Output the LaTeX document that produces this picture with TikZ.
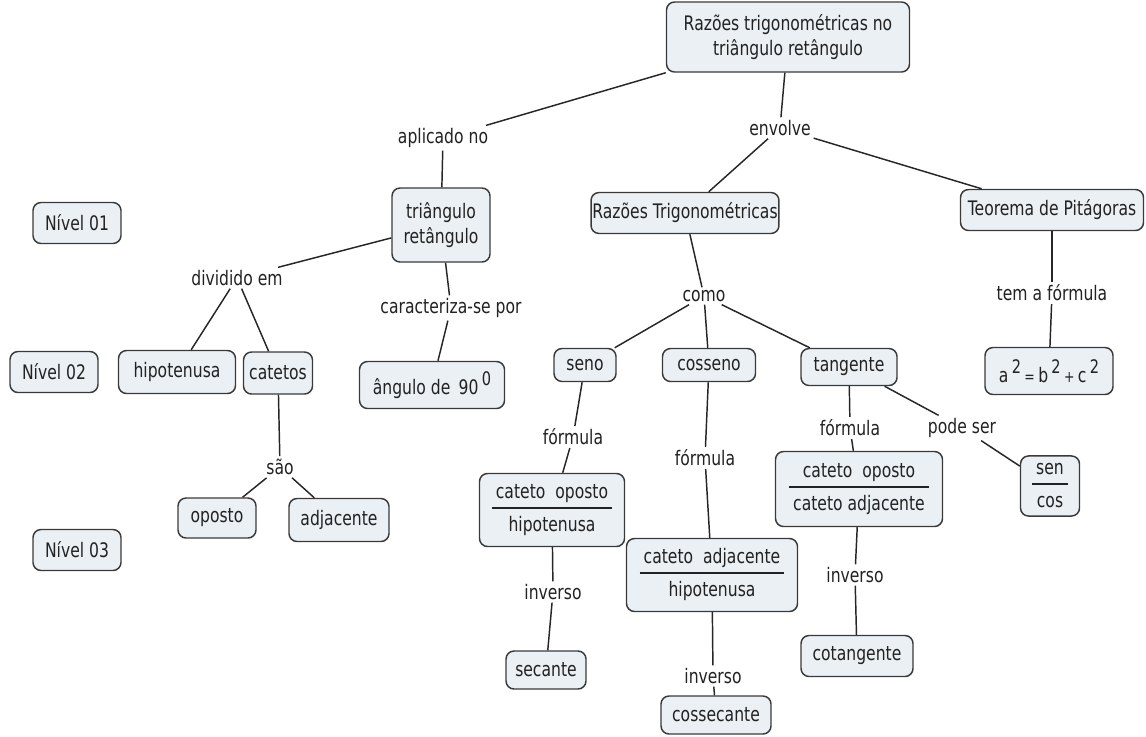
\documentclass[tikz,border=0pt]{standalone}
\usepackage{fontspec}
\setmainfont{DejaVu Sans}[FakeStretch=0.78]
\usepackage{array}
\definecolor{boxfill}{HTML}{EAF0F4}
\definecolor{boxline}{HTML}{3A3A3A}
\definecolor{inktext}{HTML}{222222}
\newcommand{\fracbox}[2]{\setlength{\arrayrulewidth}{1pt}\setlength{\tabcolsep}{3pt}%
  \begin{tabular}{c}#1\\[1pt]\hline\rule{0pt}{17pt}#2\end{tabular}}
\newcommand{\supnum}[1]{\raisebox{0.85ex}{\fontsize{14}{14}\selectfont #1}}
\newcommand{\opsign}[1]{{\fontsize{12}{12}\selectfont #1}}
\begin{document}
\begin{tikzpicture}[x=0.75pt,y=-0.75pt,
  concept/.style={draw=boxline, fill=boxfill, rounded corners=6pt, line width=1.1pt,
    text=inktext, font=\fontsize{15}{18.5}\selectfont, align=center, inner sep=1pt},
  sz/.style 2 args={minimum width=#1*0.75pt, minimum height=#2*0.75pt},
  link/.style={text=inktext, font=\fontsize{15}{18.5}\selectfont, inner sep=2pt, fill=white},
  wire/.style={draw=black!85, line width=1.1pt}]
\useasboundingbox (0,0) rectangle (1146,736);

% concepts
\node[concept, sz={243}{70}] (top) at (788,37) {Razões trigonométricas no\\triângulo retângulo};
\node[concept, sz={98}{74}] (tri) at (441,225) {triângulo\\retângulo};
\node[concept, sz={176}{41}] (razoes) at (685,213) {Razões Trigonométricas};
\node[concept, sz={183}{41}] (pitag) at (1052,210) {Teorema de Pitágoras};
\node[concept, sz={88}{41}] (n1) at (77,223) {Nível 01};
\node[concept, sz={88}{41}] (n2) at (54,372) {Nível 02};
\node[concept, sz={88}{41}] (n3) at (77,550) {Nível 03};
\node[concept, sz={117}{43}] (hip) at (177,372) {hipotenusa};
\node[concept, sz={69}{42}] (cat) at (278,373) {catetos};
\node[concept, sz={145}{47}] (ang) at (432,385) {ângulo de \,90\,\supnum{0}};
\node[concept, sz={62}{33}] (seno) at (585,365) {seno};
\node[concept, sz={93}{33}] (cosseno) at (709,365) {cosseno};
\node[concept, sz={96}{37}] (tang) at (849,367) {tangente};
\node[concept, sz={128}{47}] (pform) at (1049,371) {a\,\supnum{2}\,\opsign{=}\,b\,\supnum{2}\,\opsign{+}\,c\,\supnum{2}};
\node[concept, sz={78}{40}] (oposto) at (217,518) {oposto};
\node[concept, sz={100}{43}] (adj) at (339,520) {adjacente};
\node[concept, sz={145}{73}] (fseno) at (552,510) {\fracbox{cateto\ \ oposto}{hipotenusa}};
\node[concept, sz={171}{73}] (fcos) at (712,575) {\fracbox{cateto\ \ adjacente}{hipotenusa}};
\node[concept, sz={167}{75}] (ftan) at (859,489) {\fracbox{cateto\ \ oposto}{cateto adjacente}};
\node[concept, sz={59}{60}] (sencos) at (1050,486) {\fracbox{sen}{cos}};
\node[concept, sz={80}{38}] (sec) at (546,670) {secante};
\node[concept, sz={110}{38}] (cossec) at (716,715) {cossecante};
\node[concept, sz={112}{41}] (cotg) at (857,656) {cotangente};

% linking phrases
\node[link] (aplic) at (443,138) {aplicado no};
\node[link] (envolve) at (780,128) {envolve};
\node[link] (divid) at (237,278) {dividido em};
\node[link] (caract) at (451,308) {caracteriza-se por};
\node[link] (como) at (704,296) {como};
\node[link] (tem) at (1052,293) {tem a fórmula};
\node[link] (sao) at (280,467) {são};
\node[link] (fsen) at (573,437) {fórmula};
\node[link] (fcs) at (705,458) {fórmula};
\node[link] (ftg) at (850,428) {fórmula};
\node[link] (pode) at (962,428) {pode ser};
\node[link] (invs) at (553,592) {inverso};
\node[link] (invc) at (713,676) {inverso};
\node[link] (invt) at (855,575) {inverso};

% connectors: concept -- linking phrase -- concept
\draw[wire] (top) -- (aplic);
\draw[wire] (aplic) -- (tri);
\draw[wire] (top) -- (envolve);
\draw[wire] (envolve) -- (razoes);
\draw[wire] (envolve) -- (pitag);
\draw[wire] (tri) -- (divid);
\draw[wire] (divid) -- (hip);
\draw[wire] (divid) -- (cat);
\draw[wire] (tri) -- (caract);
\draw[wire] (caract) -- (ang);
\draw[wire] (cat) -- (sao);
\draw[wire] (sao) -- (oposto);
\draw[wire] (sao) -- (adj);
\draw[wire] (razoes) -- (como);
\draw[wire] (como) -- (seno);
\draw[wire] (como) -- (cosseno);
\draw[wire] (como) -- (tang);
\draw[wire] (pitag) -- (tem);
\draw[wire] (tem) -- (pform);
\draw[wire] (seno) -- (fsen);
\draw[wire] (fsen) -- (fseno);
\draw[wire] (cosseno) -- (fcs);
\draw[wire] (fcs) -- (fcos);
\draw[wire] (tang) -- (ftg);
\draw[wire] (ftg) -- (ftan);
\draw[wire] (tang) -- (pode);
\draw[wire] (pode) -- (sencos);
\draw[wire] (fseno) -- (invs);
\draw[wire] (invs) -- (sec);
\draw[wire] (fcos) -- (invc);
\draw[wire] (invc) -- (cossec);
\draw[wire] (ftan) -- (invt);
\draw[wire] (invt) -- (cotg);
\end{tikzpicture}
\end{document}
